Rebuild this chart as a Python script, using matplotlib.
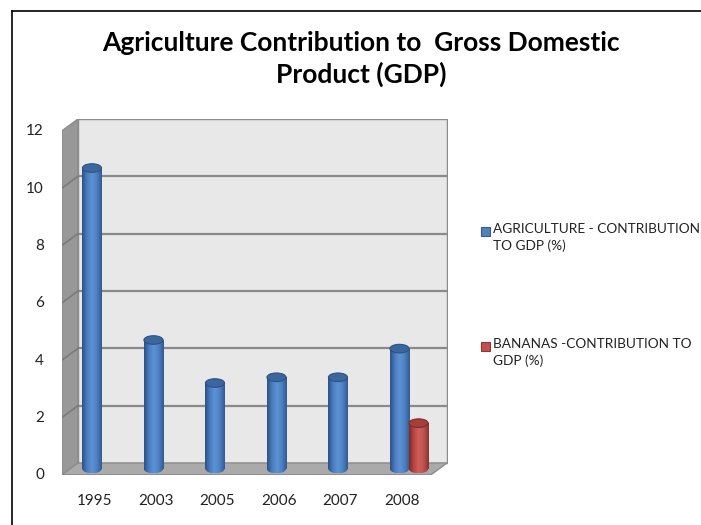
import numpy as np
import matplotlib
matplotlib.use("Agg")
import matplotlib.pyplot as plt
from matplotlib.patches import Polygon, Rectangle, Ellipse
from matplotlib.colors import LinearSegmentedColormap
from matplotlib.lines import Line2D

# data
years = ['1995', '2003', '2005', '2006', '2007', '2008']
agriculture = [10.5, 4.5, 3.0, 3.2, 3.2, 4.2]
bananas = [None, None, None, None, None, 1.6]
y_ticks = [0, 2, 4, 6, 8, 10, 12]
series_names = ['AGRICULTURE - CONTRIBUTION\nTO GDP (%)',
                'BANANAS -CONTRIBUTION TO\nGDP (%)']
title = 'Agriculture Contribution to  Gross Domestic\nProduct (GDP)'

plt.rcParams['font.family'] = ['Lato', 'DejaVu Sans']

W, H = 701, 525
fig = plt.figure(figsize=(W / 100, H / 100), dpi=100)

# plotting box (front-left corner of side wall to back-right of wall)
ax = fig.add_axes([62 / W, 1 - 475 / H, (448 - 62) / W, (475 - 119) / H])
xmin, xmax = -0.642, 5.634
ymin, ymax = -0.209, 12.21

# fake 3d depth offsets (data units)
DX = 0.26
front_off, back_off = -0.2, 0.21
xl_front, xl_back = xmin, xmin + DX
xr_back = 5.618
xr_front = xr_back - DX

wall_edge = '#8C8C8C'
# back wall
ax.add_patch(Rectangle((xl_back, back_off), xr_back - xl_back, 12,
                       fc='#E8E8E8', ec=wall_edge, lw=1.0, zorder=1))
# side wall
ax.add_patch(Polygon([(xl_front, front_off), (xl_back, back_off),
                      (xl_back, 12 + back_off), (xl_front, 12 + front_off)],
                     closed=True, fc='#989898', ec=wall_edge, lw=1.0, zorder=1))
# floor
ax.add_patch(Polygon([(xl_front, front_off), (xr_front, front_off),
                      (xr_back, back_off), (xl_back, back_off)],
                     closed=True, fc='#AAAAAA', ec=wall_edge, lw=1.0, zorder=1))

# gridlines on back and side walls
for v in y_ticks[1:-1]:
    ax.plot([xl_back, xr_back], [v + back_off, v + back_off], color='#8A8A8A', lw=1.6, zorder=2)
    ax.plot([xl_front, xl_back], [v + front_off, v + back_off], color='#7A7A7A', lw=1.2, zorder=2)

# bars as shaded cylinders
width = 0.31
x = np.arange(len(years))
blue_cmap = LinearSegmentedColormap.from_list(
    'blue_cyl', ['#2D5085', '#4A7DC0', '#5D92D5', '#4C80C2', '#335A90'])
red_cmap = LinearSegmentedColormap.from_list(
    'red_cyl', ['#7C2A28', '#B94845', '#CF5F5C', '#BF524F', '#873331'])
grad = np.linspace(0, 1, 64).reshape(1, -1)
cap_h = 0.3


def cylinders(xpos, vals, cmap, top_fc, edge):
    pts = [(xx, vv) for xx, vv in zip(xpos, vals) if vv is not None]
    bars = ax.bar([p[0] for p in pts], [p[1] for p in pts], width,
                  color='none', edgecolor='none', zorder=3)
    for b in bars:
        x0, w, h = b.get_x(), b.get_width(), b.get_height()
        xc = x0 + w / 2
        im = ax.imshow(grad, cmap=cmap, extent=(x0, x0 + w, 0, h),
                       aspect='auto', zorder=3, interpolation='bilinear')
        im.set_clip_path(b)
        bot = Ellipse((xc, 0), w, cap_h, fc='none', ec='none', zorder=3)
        ax.add_patch(bot)
        im2 = ax.imshow(grad, cmap=cmap, extent=(x0, x0 + w, -cap_h / 2, cap_h / 2),
                        aspect='auto', zorder=3, interpolation='bilinear')
        im2.set_clip_path(bot)
        ax.add_patch(Ellipse((xc, h), w, cap_h, fc=top_fc, ec=edge, lw=0.8, zorder=4))


cylinders(x - width / 2, agriculture, blue_cmap, '#3B669E', '#2E5283')
cylinders(x + width / 2, bananas, red_cmap, '#A63E3B', '#7E2B29')

ax.set_xlim(xmin, xmax)
ax.set_ylim(ymin, ymax)
for s in ax.spines.values():
    s.set_visible(False)
ax.set_yticks([v + front_off + 0.03 for v in y_ticks])
ax.set_yticklabels([str(v) for v in y_ticks])
ax.set_xticks(x - 0.12)
ax.set_xticklabels(years)
ax.tick_params(axis='y', length=0, pad=13, labelsize=11, labelcolor='#222222')
ax.tick_params(axis='x', length=0, pad=14, labelsize=11, labelcolor='#222222')

# title
fig.text(361 / W, 1 - 59 / H, title, ha='center', va='center', fontsize=19,
         fontweight='bold', linespacing=1.3, color='black')

# legend drawn by hand so the square sits on the first text line
leg = [(series_names[0], '#4F81BD', '#385D8A', 231),
       (series_names[1], '#C0504D', '#8C3836', 346)]
for label, fc, ec, ypx in leg:
    fig.patches.append(Rectangle((481 / W, 1 - (ypx + 5) / H), 9 / W, 9 / H,
                                 fc=fc, ec=ec, lw=0.8, transform=fig.transFigure))
    fig.text(493 / W, 1 - (ypx - 8) / H, label, ha='left', va='top', fontsize=9.8,
             linespacing=1.45, color='#222222')

# chart border (top and left visible)
fig.lines.append(Line2D([12 / W, 12 / W], [0, 1 - 11 / H], color='black', lw=1.2,
                        transform=fig.transFigure))
fig.lines.append(Line2D([12 / W, 1], [1 - 11 / H, 1 - 11 / H], color='black', lw=1.2,
                        transform=fig.transFigure))

fig.savefig('out.png', dpi=100)
